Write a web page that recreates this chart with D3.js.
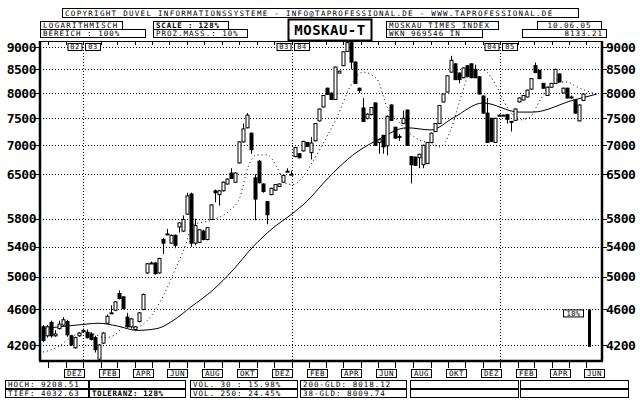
<!DOCTYPE html>
<html><head><meta charset="utf-8">
<script src="https://cdn.jsdelivr.net/npm/d3@7"></script>
<style>body{margin:0;background:#fff}svg{display:block}text{font-family:"DejaVu Sans Mono",monospace;fill:#000}</style>
</head><body><svg id="c" width="640" height="400"></svg>
<script>
const opens=[4400,4300,4450,4300,4380,4420,4460,4300,4170,4300,4350,4340,4320,4280,4050,4220,4440,4560,4590,4790,4750,4510,4400,4370,4460,4600,5050,5180,5180,5050,5500,5580,5450,5560,5680,5620,5870,6180,5450,5460,5620,5500,5790,6230,6170,6230,6340,6520,6370,6690,7060,7320,7220,6440,6720,6340,6060,6170,6240,6300,6370,6550,6500,6800,6850,6900,7050,6870,7080,7450,7720,8100,8000,7870,8420,8580,8900,9100,8660,8100,7700,7500,7570,7800,7050,7180,6990,7760,7330,7150,7400,7660,6800,6790,6780,6660,6680,7050,7250,7400,7820,8020,8440,8620,8420,8320,8580,8620,8500,8340,7940,7600,7500,7050,7560,7560,7570,7440,7460,7820,7860,7920,8080,8580,8480,8200,7950,8120,8200,8400,8000,8100,7900,7860,7450,7850];
const highs=[4420,4420,4470,4360,4470,4510,4480,4310,4290,4340,4380,4370,4340,4300,4210,4340,4540,4650,4700,4830,4760,4560,4500,4410,4570,4790,5180,5200,5190,5250,5520,5650,5570,5570,5750,5850,6200,6200,5800,5650,5640,5680,6020,6250,6240,6380,6430,6600,6530,7070,7400,7600,7230,6500,6740,6350,6070,6280,6340,6350,6490,6600,6560,6970,6860,7080,7060,7150,7410,7690,7960,8110,8010,8560,8470,8900,9200,9208,8670,8110,7900,7600,7720,7810,7110,7190,7550,7770,7340,7200,7650,7670,6810,6800,6850,7010,7060,7230,7410,7760,7990,8370,8800,8630,8430,8540,8590,8630,8600,8350,7950,7900,7510,7510,7570,7570,7580,7450,7690,7910,7960,8070,8310,8650,8490,8210,8130,8210,8510,8410,8110,8110,7950,7870,7770,8000];
const lows=[4230,4280,4280,4290,4370,4410,4290,4190,4160,4290,4340,4270,4250,4120,4033,4210,4430,4550,4580,4720,4600,4390,4380,4360,4450,4590,5040,5170,5030,5040,5300,5570,5440,5380,5600,5610,5860,5400,5420,5450,5490,5490,5780,6050,6000,6220,6330,6420,6360,6680,7050,7310,6850,5780,6350,6200,5720,6160,6230,6290,6360,6540,6490,6790,6770,6890,6970,6750,7070,7440,7710,7960,7860,7860,8410,8570,8890,8500,8190,8000,7430,7480,7560,6990,6850,6850,6820,7450,7120,7080,7390,6990,6350,6640,6600,6600,6670,7040,7240,7390,7810,8010,8430,8270,8200,8310,8340,8310,8310,7970,7590,7040,7060,7040,7550,7550,7400,7250,7450,7810,7850,7910,8070,8420,8290,8090,7940,8110,8190,8220,7990,7890,7880,7590,7440,7840];
const closes=[4250,4400,4300,4320,4430,4480,4310,4200,4280,4330,4360,4280,4260,4150,4200,4330,4520,4560,4690,4730,4610,4400,4490,4400,4560,4780,5170,5180,5040,5240,5450,5580,5560,5420,5740,5790,6150,5450,5700,5640,5500,5670,6010,6200,6230,6370,6420,6430,6520,7060,7300,7560,6920,6100,6360,6220,5860,6270,6330,6340,6480,6550,6500,6960,6780,7070,6980,7040,7400,7680,7950,7970,7870,8550,8460,8890,9100,8660,8200,8050,7440,7580,7710,7000,7100,6970,7540,7460,7130,7160,7500,7000,6660,6650,6840,7000,7050,7220,7400,7750,7980,8360,8700,8280,8280,8530,8350,8320,8320,7980,7600,7050,7070,7500,7560,7560,7480,7440,7680,7900,7950,8060,8300,8430,8300,8100,8120,8200,8500,8230,8100,7900,7920,7600,7760,7980];
// moving averages: [candle index, value]
const ma200=[[0,4380],[8.5,4420],[14,4440],[18.5,4410],[23.5,4360],[28.5,4380],[32.5,4470],[37,4630],[42.5,4835],[47.5,5088],[52.5,5400],[57.5,5665],[62.5,5885],[67,6130],[69,6275],[78.5,6880],[83.5,7090],[91,7320],[97,7280],[102.5,7505],[110,7800],[119,7620],[122.5,7620],[132.5,7855],[138.5,7980]];
const ma38=[[0,4125],[3.75,4180],[7,4285],[10,4340],[12,4330],[13.25,4310],[15.5,4280],[18,4310],[20.5,4410],[23,4390],[26.25,4480],[29.5,4710],[33,5088],[35.5,5400],[37.5,5710],[42.5,5785],[46.75,5930],[49.25,6130],[51.25,6620],[53.5,6830],[56,6830],[58.5,6620],[60.5,6355],[62.5,6330],[65,6455],[67.25,6690],[69.25,6935],[73.5,7525],[76.75,8125],[80,8440],[83.5,8290],[86,7720],[88.5,7470],[94.25,7090],[96.75,7040],[99.25,6970],[101.75,7240],[104.25,7855],[106.75,8420],[110,8480],[113.5,8125],[116,7720],[119.25,7470],[121.75,7525],[124.25,7855],[127.5,8210],[131,8230],[133.5,8125],[137.5,8000]];
const yTicks=[4200,4600,5000,5400,5800,6500,7000,7500,8000,8500,9000];
const monthNames=["JAN","FEB","MÄR","APR","MAI","JUN","JUL","AUG","SEP","OKT","NOV","DEZ"];
const monthLabels=["DEZ","FEB","APR","JUN","AUG","OKT"];
const years=[2003,2004,2005];

const svg=d3.select("#c");
const L=40,R=602,T=41,B=361;
const y=d3.scaleLog().domain([4200,9000]).range([345,47]);
const xi=d3.scaleLinear().domain([0,closes.length-1]).range([43,583]);
const xt=d3.scaleTime().domain([new Date(2002,11,31,12),new Date(2004,11,31,12)]).range([83,500]);

function box(x,w,yy,h,txt,opt={}){
  svg.append("rect").attr("x",x+.5).attr("y",yy+.5).attr("width",w).attr("height",h).attr("fill","#fff").attr("stroke","#000").attr("stroke-width",opt.sw||1);
  const t=svg.append("text").attr("y",yy+h/2+1).attr("dominant-baseline","middle").attr("font-size",opt.fs||7.5).attr("font-weight",opt.bold?"bold":"normal").attr("letter-spacing",opt.ls==null?1:opt.ls).text(txt);
  if(opt.anchor==="end") t.attr("x",x+w-3).attr("text-anchor","end");
  else if(opt.anchor==="middle") t.attr("x",x+w/2+.5).attr("text-anchor","middle");
  else t.attr("x",x+3);
}
// header
box(62,516,8,9,"COPYRIGHT  DUVEL INFORMATIONSSYSTEME - INFO@TAPROFESSIONAL.DE - WWW.TAPROFESSIONAL.DE",{ls:1.3});
box(40,82,21,8,"LOGARITHMISCH",{ls:1.3});
box(40,105,29,8,"BEREICH :   100%");
box(153,75,21,8,"SCALE : 128%",{bold:true,ls:0.8});
box(153,94,29,8,"PROZ.MASS.: 10%");
box(288,83,19,21,"MOSKAU-T",{bold:true,fs:14,anchor:"middle",sw:2,ls:0.5});
box(386,112,21,8,"MOSKAU TIMES INDEX",{ls:1.1});
box(386,96,29,8,"WKN 969546   IN");
box(537,64,21,8,"10.06.05",{anchor:"middle"});
box(522,84,29,8,"8133.21",{anchor:"end"});

// grid
const g=svg.append("g");
yTicks.forEach(v=>{
  g.append("line").attr("x1",L).attr("x2",R).attr("y1",Math.round(y(v))+.5).attr("y2",Math.round(y(v))+.5).attr("stroke","#000").attr("stroke-dasharray","1,2");
  g.append("line").attr("x1",L-5).attr("x2",L).attr("y1",Math.round(y(v))+.5).attr("y2",Math.round(y(v))+.5).attr("stroke","#000");
  g.append("line").attr("x1",R).attr("x2",R+5).attr("y1",Math.round(y(v))+.5).attr("y2",Math.round(y(v))+.5).attr("stroke","#000");
  g.append("text").attr("x",L-4).attr("y",y(v)+1).attr("text-anchor","end").attr("dominant-baseline","middle").attr("font-size",13).attr("font-weight","bold").attr("letter-spacing",-0.5).text(v);
  g.append("text").attr("x",R+4).attr("y",y(v)+1).attr("dominant-baseline","middle").attr("font-size",13).attr("font-weight","bold").attr("letter-spacing",-0.5).text(v);
});
years.forEach(yr=>{
  const xx=Math.round(xt(new Date(yr,0,1)))+.5;
  g.append("line").attr("x1",xx).attr("x2",xx).attr("y1",T).attr("y2",B).attr("stroke","#000").attr("stroke-dasharray","1,2");
  const a=String(yr-1).slice(2),b=String(yr).slice(2);
  box(xx-16,14,43,7,a,{anchor:"middle",ls:0.5,fs:7});
  box(xx+1.5,15,43,7,b,{anchor:"middle",ls:0.5,fs:7});
});
// month ticks
const months=d3.timeMonth.range(new Date(2002,10,1),new Date(2005,6,1));
months.forEach(m=>{
  const xx=Math.round(xt(m))+.5;
  if(xx<L||xx>R) return;
  g.append("line").attr("x1",xx).attr("x2",xx).attr("y1",B).attr("y2",B+7).attr("stroke","#000");
  g.append("line").attr("x1",xx).attr("x2",xx).attr("y1",T).attr("y2",T+4).attr("stroke","#000");
  const nm=monthNames[m.getMonth()];
  if(monthLabels.includes(nm)){
    const c=xt(new Date(m.getFullYear(),m.getMonth(),15));
    box(Math.round(c-10),20,369,8,nm,{anchor:"middle",ls:0.5});
  }
});
// moving averages
const line=d3.line().x(d=>xi(d[0])).y(d=>y(d[1])).curve(d3.curveMonotoneX);
svg.append("path").attr("d",line(ma200)).attr("fill","none").attr("stroke","#000").attr("stroke-width",1);
svg.append("path").attr("d",line(ma38)).attr("fill","none").attr("stroke","#000").attr("stroke-width",1).attr("stroke-dasharray","1,3");
// candles
const cg=svg.append("g");
closes.forEach((c,i)=>{
  const o=opens[i],xx=Math.round(xi(i));
  cg.append("line").attr("x1",xx+.5).attr("x2",xx+.5).attr("y1",Math.max(y(highs[i]),T)).attr("y2",y(lows[i])).attr("stroke","#000");
  const top=y(Math.max(o,c)),bot=y(Math.min(o,c));
  cg.append("rect").attr("x",xx-1).attr("y",top).attr("width",3).attr("height",Math.max(bot-top,1)).attr("fill",c>=o?"#fff":"#000").attr("stroke","#000").attr("stroke-width",1);
});
// 10% bar
const bv=[4180,4600];
svg.append("rect").attr("x",588).attr("y",y(bv[1])).attr("width",3).attr("height",y(bv[0])-y(bv[1])).attr("fill","#000");
box(563,20,y(4600),7,"10%",{anchor:"middle",ls:0.5,fs:7});
// frame
svg.append("line").attr("x1",L).attr("x2",R).attr("y1",T+.5).attr("y2",T+.5).attr("stroke","#000");
svg.append("line").attr("x1",L-1).attr("x2",R+1).attr("y1",B).attr("y2",B).attr("stroke","#000").attr("stroke-width",2.5);
svg.append("line").attr("x1",L).attr("x2",L).attr("y1",T).attr("y2",B).attr("stroke","#000").attr("stroke-width",2.5);
svg.append("line").attr("x1",R).attr("x2",R).attr("y1",T).attr("y2",B).attr("stroke","#000").attr("stroke-width",2.5);
// footer
function fbox(x,w,t1,t2,b2){
  box(x,w,380,8,t1);
  box(x,w,389,8,t2,{bold:b2,ls:b2?0.6:1});
}
fbox(5,83,"HOCH: 9208.51","TIEF: 4032.63");
fbox(89,96,"","TOLERANZ: 128%",true);
fbox(190,107,"VOL. 30 : 15.98%","VOL. 250: 24.45%");
fbox(300,106,"200-GLD: 8018.12"," 38-GLD: 8009.74");
fbox(410,108,"","");
fbox(520,108,"","");
</script></body></html>
